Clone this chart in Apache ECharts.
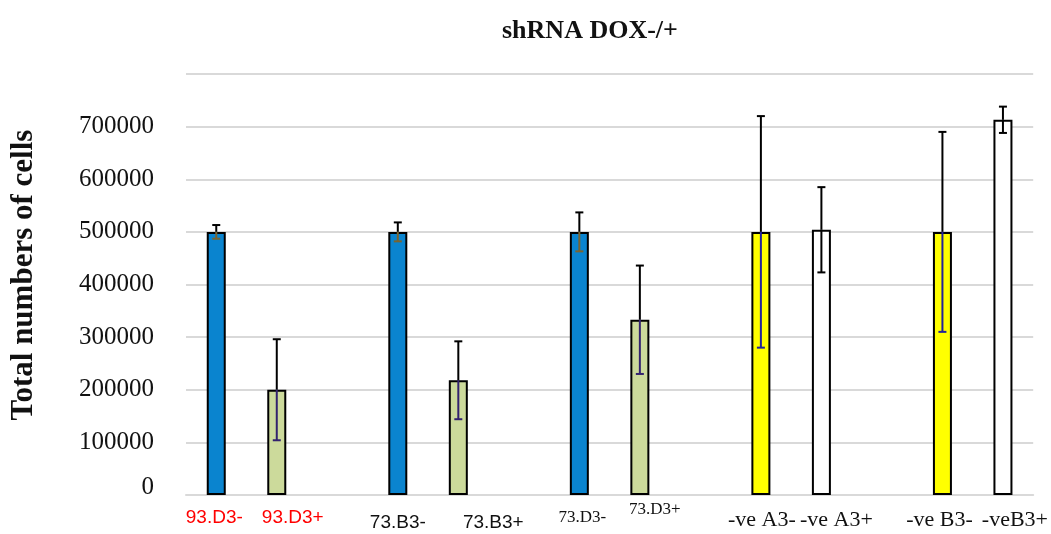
<!DOCTYPE html>
<html>
<head>
<meta charset="utf-8">
<script src="https://cdn.jsdelivr.net/npm/echarts@6/dist/echarts.min.js"></script>
<style>
  html, body { margin: 0; padding: 0; background: #ffffff; }
  #chart { width: 1051px; height: 534px; }
</style>
</head>
<body>
<div id="chart"></div>
<script>
// Samples, drawn in pairs (DOX- then DOX+)
const sampleLabels = ['93.D3-', '93.D3+', '73.B3-', '73.B3+', '73.D3-', '73.D3+', '-ve A3-', '-ve A3+', '-ve B3-', '-veB3+'];
// Mean total cell count per sample
const cellCounts = [500000, 200000, 500000, 218000, 500000, 333000, 500000, 504000, 500000, 713000];
// Error bar half-length per sample
const errorMargins = [13000, 96000, 18000, 74000, 37000, 103000, 220000, 81000, 190000, 25000];
// Value axis ticks
const yTicks = [0, 100000, 200000, 300000, 400000, 500000, 600000, 700000];

// Appearance per bar
const barFills = ['#0A84CF', '#CCDA9B', '#0A84CF', '#CCDA9B', '#0A84CF', '#CCDA9B', '#FFFF00', '#FFFFFF', '#FFFF00', '#FFFFFF'];
const innerErrColors = ['#7A6430', '#33226E', '#7A6430', '#33226E', '#7A6430', '#33226E', '#22229A', '#000000', '#22229A', '#000000'];
// label text style per bar: [font family, size, color, horizontal shift, drop below axis]
const labelLook = [
  ['Liberation Sans', 19, '#FF0000', -2, 23],
  ['Liberation Sans', 19, '#FF0000', 16, 23],
  ['Liberation Sans', 19, '#111111', 0, 28],
  ['Liberation Sans', 19, '#111111', 35, 28],
  ['Liberation Serif', 17, '#111111', 3, 23],
  ['Liberation Serif', 17, '#111111', 15, 15],
  ['Liberation Serif', 22, '#111111', 1, 25],
  ['Liberation Serif', 22, '#111111', 15, 25],
  ['Liberation Serif', 22, '#111111', -3, 25],
  ['Liberation Serif', 22, '#111111', 12, 25]
];

// one empty slot separates each pair
const slotOf = i => i + Math.floor(i / 2);
const slotCount = slotOf(sampleLabels.length - 1) + 1;
const categories = new Array(slotCount).fill('');
const barData = new Array(slotCount).fill(null);
const errData = [];
sampleLabels.forEach((name, i) => {
  const s = slotOf(i);
  categories[s] = name;
  barData[s] = { value: cellCounts[i], itemStyle: { color: barFills[i] } };
  errData.push([s, cellCounts[i], errorMargins[i], i]);
});

// text sits in the middle of its padded line, so the top padding is doubled
const rich = {};
labelLook.forEach((l, i) => {
  const [family, size, color, dx, drop] = l;
  const lh = size;
  const top = Math.max(0, 2 * drop - lh);
  rich['l' + i] = {
    fontFamily: family, fontSize: size, color: color, lineHeight: lh,
    padding: [top, dx < 0 ? -2 * dx : 0, 0, dx > 0 ? 2 * dx : 0]
  };
});

const chart = echarts.init(document.getElementById('chart'), null, { renderer: 'canvas' });

chart.setOption({
  animation: false,
  backgroundColor: '#ffffff',
  title: {
    text: 'shRNA DOX-/+',
    left: 497,
    top: 13,
    textStyle: { fontFamily: 'Liberation Serif', fontWeight: 'bold', fontSize: 26, color: '#111111' }
  },
  graphic: [{
    type: 'text',
    x: 24,
    y: 275,
    rotation: Math.PI / 2,
    style: {
      text: 'Total numbers of cells',
      font: 'bold 31px "Liberation Serif"',
      fill: '#111111',
      align: 'center',
      verticalAlign: 'middle'
    }
  }],
  grid: { left: 186, right: 17, top: 74, bottom: 39 },
  xAxis: {
    type: 'category',
    data: categories,
    axisLine: { show: true, lineStyle: { color: '#D9D9D9', width: 2 } },
    axisTick: { show: false },
    axisLabel: {
      interval: 0,
      margin: 0,
      formatter: (val, idx) => {
        const i = sampleLabels.indexOf(val);
        return i < 0 ? '' : '{l' + i + '|' + val + '}';
      },
      rich: rich
    }
  },
  yAxis: {
    type: 'value',
    min: 0,
    max: 800000,
    interval: 100000,
    axisLine: { show: false },
    axisTick: { show: false },
    splitLine: { lineStyle: { color: '#D9D9D9', width: 2 } },
    axisLabel: {
      margin: 32,
      fontFamily: 'Liberation Serif',
      fontSize: 25,
      color: '#111111',
      formatter: v => {
        if (yTicks.indexOf(v) < 0) return '';
        return v === 0 ? '{z|0}' : String(v);
      },
      rich: { z: { fontFamily: 'Liberation Serif', fontSize: 25, color: '#111111', padding: [0, 0, 16, 0] } }
    }
  },
  series: [
    {
      type: 'bar',
      data: barData,
      barWidth: 19,
      itemStyle: { borderColor: '#000000', borderWidth: 2 },
      z: 2
    },
    {
      type: 'custom',
      data: errData,
      z: 3,
      renderItem: (params, api) => {
        const x = api.value(0), v = api.value(1), e = api.value(2), k = api.value(3);
        const hi = api.coord([x, v + e]);
        const mid = api.coord([x, v]);
        const lo = api.coord([x, v - e]);
        const cx = mid[0];
        const cap = 4;
        const inner = innerErrColors[k];
        const outer = { stroke: '#000000', lineWidth: 2 };
        const inn = { stroke: inner, lineWidth: 2 };
        return {
          type: 'group',
          children: [
            { type: 'line', shape: { x1: cx, y1: hi[1], x2: cx, y2: mid[1] }, style: outer },
            { type: 'line', shape: { x1: cx - cap, y1: hi[1], x2: cx + cap, y2: hi[1] }, style: outer },
            { type: 'line', shape: { x1: cx, y1: mid[1], x2: cx, y2: lo[1] }, style: inn },
            { type: 'line', shape: { x1: cx - cap, y1: lo[1], x2: cx + cap, y2: lo[1] }, style: inn }
          ]
        };
      }
    }
  ]
});
</script>
</body>
</html>
